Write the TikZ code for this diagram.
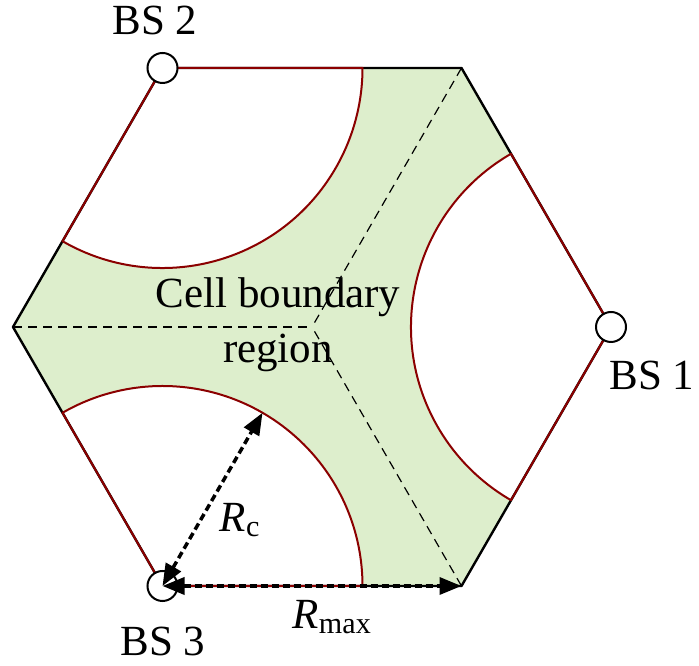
\documentclass[tikz,border=0pt]{standalone}
\usepackage{fontspec}
\setmainfont{Liberation Serif}
\usetikzlibrary{arrows.meta, calc}
\definecolor{tinta}{HTML}{000000}
\definecolor{granate}{HTML}{8B0000}
\definecolor{verdeclaro}{HTML}{DDEECC}
\tikzset{
  % Contorno del hexágono (tramos fuera de R_c)
  borde/.style    = {line width=2.4pt, color=tinta, line cap=round, line join=round},
  % Tramos y arcos dentro de la cobertura de cada BS
  cobertura/.style = {line width=2pt, color=granate, line cap=round},
  % Líneas auxiliares desde el centro
  auxiliar/.style = {line width=1.2pt, color=tinta, dash pattern=on 9pt off 6pt},
  % Zona de frontera de celda
  relleno zona/.style = {fill=verdeclaro, draw=none},
  % Estaciones base
  estacion/.style = {circle, draw=tinta, fill=white, line width=2pt,
                     inner sep=0pt, minimum size=30pt},
  % Cotas de radio (doble flecha)
  cota/.style     = {line width=3.5pt, color=tinta, dash pattern=on 7pt off 4pt,
                     {Triangle[length=22pt,width=17pt]}-{Triangle[length=22pt,width=17pt]}},
  % Rótulos de texto
  rotulo/.style   = {inner sep=0pt},
  every node/.style = {color=tinta, font=\fontsize{43}{55}\selectfont},
}

\begin{document}
\begin{tikzpicture}[x=1pt, y=1pt]
  \useasboundingbox (0,0) rectangle (699,666);

  % ============================================================
  % Hexágono de lado 299 con las BS en vértices alternos
  % ============================================================
  \coordinate (O) at (312,339);
  \coordinate (A) at (611,339);     % BS 1
  \coordinate (B) at (461.5,598);
  \coordinate (C) at (162.5,598);   % BS 2
  \coordinate (D) at (13,339);
  \coordinate (E) at (162.5,80);    % BS 3
  \coordinate (F) at (461.5,80);

  % zona de frontera = hexágono menos los tres discos de radio R_c
  \fill[relleno zona] (A) -- (B) -- (C) -- (D) -- (E) -- (F) -- cycle;
  \begin{scope}
    \clip (A) -- (B) -- (C) -- (D) -- (E) -- (F) -- cycle;
    \fill[white] (A) circle[radius=200pt];
    \fill[white] (C) circle[radius=200pt];
    \fill[white] (E) circle[radius=200pt];
  \end{scope}

  \draw[auxiliar] (D) -- (O);
  \draw[auxiliar] (B) -- (O);
  \draw[auxiliar] (F) -- (O);

  \draw[borde] (A) -- (B) -- (C) -- (D) -- (E) -- (F) -- cycle;
  \draw[cobertura] (A) -- +(120:200) (A) -- +(240:200);
  \draw[cobertura] (C) -- +(0:200)   (C) -- +(240:200);
  \draw[cobertura] (E) -- +(0:200)   (E) -- +(120:200);

  \draw[cobertura] (A) ++(120:200) arc[start angle=120, end angle=240, radius=200pt];
  \draw[cobertura] (C) ++(240:200) arc[start angle=240, end angle=360, radius=200pt];
  \draw[cobertura] (E) ++(0:200)   arc[start angle=0,   end angle=120, radius=200pt];

  \node[estacion] (bs1) at (A) {};
  \node[estacion] (bs2) at (C) {};
  \node[estacion] (bs3) at (E) {};

  \node[rotulo] at (155,646) (lbs2) {BS 2};
  \node[rotulo] at (652,291) (lbs1) {BS 1};
  \node[rotulo] at (163,25)  (lbs3) {BS 3};
  \node[rotulo, align=center] at (278,341) (zona) {Cell boundary\\region};

  % cotas R_c y R_max
  \coordinate (P) at ($(E)+(60:200)$);
  \draw[cota] (E) -- (P);
  \draw[cota] (E) -- (F);
  \node[rotulo] at (240,146) (rc)   {\textit{R}\textsubscript{c}};
  \node[rotulo] at (332,49)  (rmax) {\textit{R}\textsubscript{max}};

\end{tikzpicture}
\end{document}
